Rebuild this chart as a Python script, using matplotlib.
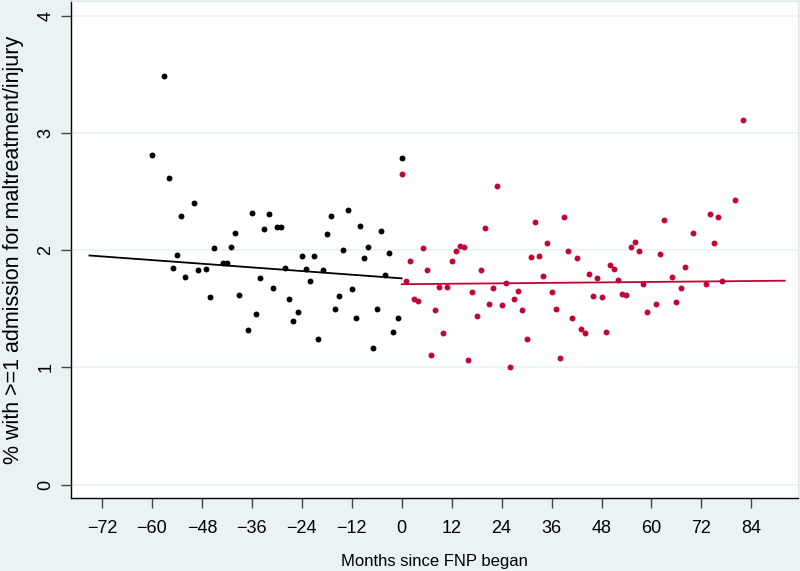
import matplotlib.pyplot as plt
import numpy as np

plt.rcParams['font.family'] = ['Liberation Sans', 'DejaVu Sans']

# before FNP (black)
pre_month = [-60, -57, -56, -55, -54, -53, -52, -50, -49, -47, -46, -45, -43, -42,
             -41, -40, -39, -37, -36, -35, -34, -33, -32, -31, -30, -29, -28, -27,
             -26, -25, -24, -23, -22, -21, -20, -19, -18, -17, -16, -15, -14, -13,
             -12, -11, -10, -9, -8, -7, -6, -5, -4, -3, -2, -1, 0]
pre_pct = [2.81, 3.49, 2.62, 1.85, 1.96, 2.29, 1.77, 2.40, 1.83, 1.84, 1.60, 2.02, 1.89, 1.89,
           2.03, 2.15, 1.62, 1.32, 2.32, 1.46, 1.76, 2.18, 2.31, 1.68, 2.20, 2.20, 1.85, 1.58,
           1.40, 1.47, 1.95, 1.84, 1.74, 1.95, 1.24, 1.83, 2.14, 2.29, 1.50, 1.61, 2.00, 2.34,
           1.67, 1.42, 2.21, 1.93, 2.03, 1.17, 1.50, 2.16, 1.79, 1.98, 1.30, 1.42, 2.79]

# after FNP (red)
post_month = [0, 1, 2, 3, 4, 5, 6, 7, 8, 9, 10, 11, 12, 13, 14, 15, 16, 17, 18, 19, 20,
              21, 22, 23, 24, 25, 26, 27, 28, 29, 30, 31, 32, 33, 34, 35, 36, 37, 38, 39, 40,
              41, 42, 43, 44, 45, 46, 47, 48, 49, 50, 51, 52, 53, 54, 55, 56, 57, 58, 59,
              61, 62, 63, 65, 66, 67, 68, 70, 73, 74, 75, 76, 77, 80, 82]
post_pct = [2.65, 1.74, 1.91, 1.58, 1.57, 2.02, 1.83, 1.11, 1.49, 1.69, 1.29, 1.69, 1.91, 1.99,
            2.04, 2.03, 1.06, 1.64, 1.44, 1.83, 2.19, 1.54, 1.68, 2.55, 1.53, 1.72, 1.00,
            1.58, 1.65, 1.49, 1.24, 1.94, 2.24, 1.95, 1.78, 2.06, 1.64, 1.50, 1.08, 2.28, 1.99,
            1.42, 1.93, 1.33, 1.29, 1.80, 1.61, 1.76, 1.60, 1.30, 1.87, 1.84, 1.75, 1.63, 1.62,
            2.03, 2.07, 1.99, 1.71, 1.47, 1.54, 1.97, 2.26, 1.77, 1.56, 1.68, 1.86, 2.15,
            1.71, 2.31, 2.06, 2.28, 1.74, 2.43, 3.11]

# fitted lines (end points)
pre_fit_x = [-75, 0]
pre_fit_y = [1.955, 1.76]
post_fit_x = [0, 92]
post_fit_y = [1.71, 1.74]

bg = '#eaf2f3'
red = '#c10534'

fig = plt.figure(figsize=(8, 5.71), dpi=100, facecolor=bg)
ax = fig.add_axes([0.089, 0.128, 0.909, 0.870])
ax.set_facecolor('white')

for y in range(5):
    ax.axhline(y, color=bg, lw=1.2, zorder=0)

ax.scatter(pre_month, pre_pct, s=18, color='black', zorder=3, linewidths=0)
ax.scatter(post_month, post_pct, s=18, color=red, zorder=3, linewidths=0)
ax.plot(pre_fit_x, pre_fit_y, color='black', lw=1.3, zorder=2)
ax.plot(post_fit_x, post_fit_y, color=red, lw=1.3, zorder=2)

ax.set_xlim(-79.4, 95.3)
ax.set_ylim(-0.113, 4.125)
ax.set_xticks(np.arange(-72, 85, 12))
ax.set_yticks(range(5))
ax.tick_params(axis='both', labelsize=13, length=7, width=1, color='#444444')
ax.tick_params(axis='x', pad=9)
ax.tick_params(axis='y', pad=5)
for lab in ax.get_yticklabels():
    lab.set_rotation(90)
    lab.set_va('center')

for s in ['top', 'right']:
    ax.spines[s].set_color('#dde8ea')
for s in ['left', 'bottom']:
    ax.spines[s].set_color('black')
    ax.spines[s].set_linewidth(1)

ax.set_xlabel('Months since FNP began', fontsize=12, labelpad=12)
ax.set_ylabel('% with >=1 admission for maltreatment/injury', fontsize=15.5, labelpad=10)

fig.savefig('out.png', dpi=100, facecolor=bg)
